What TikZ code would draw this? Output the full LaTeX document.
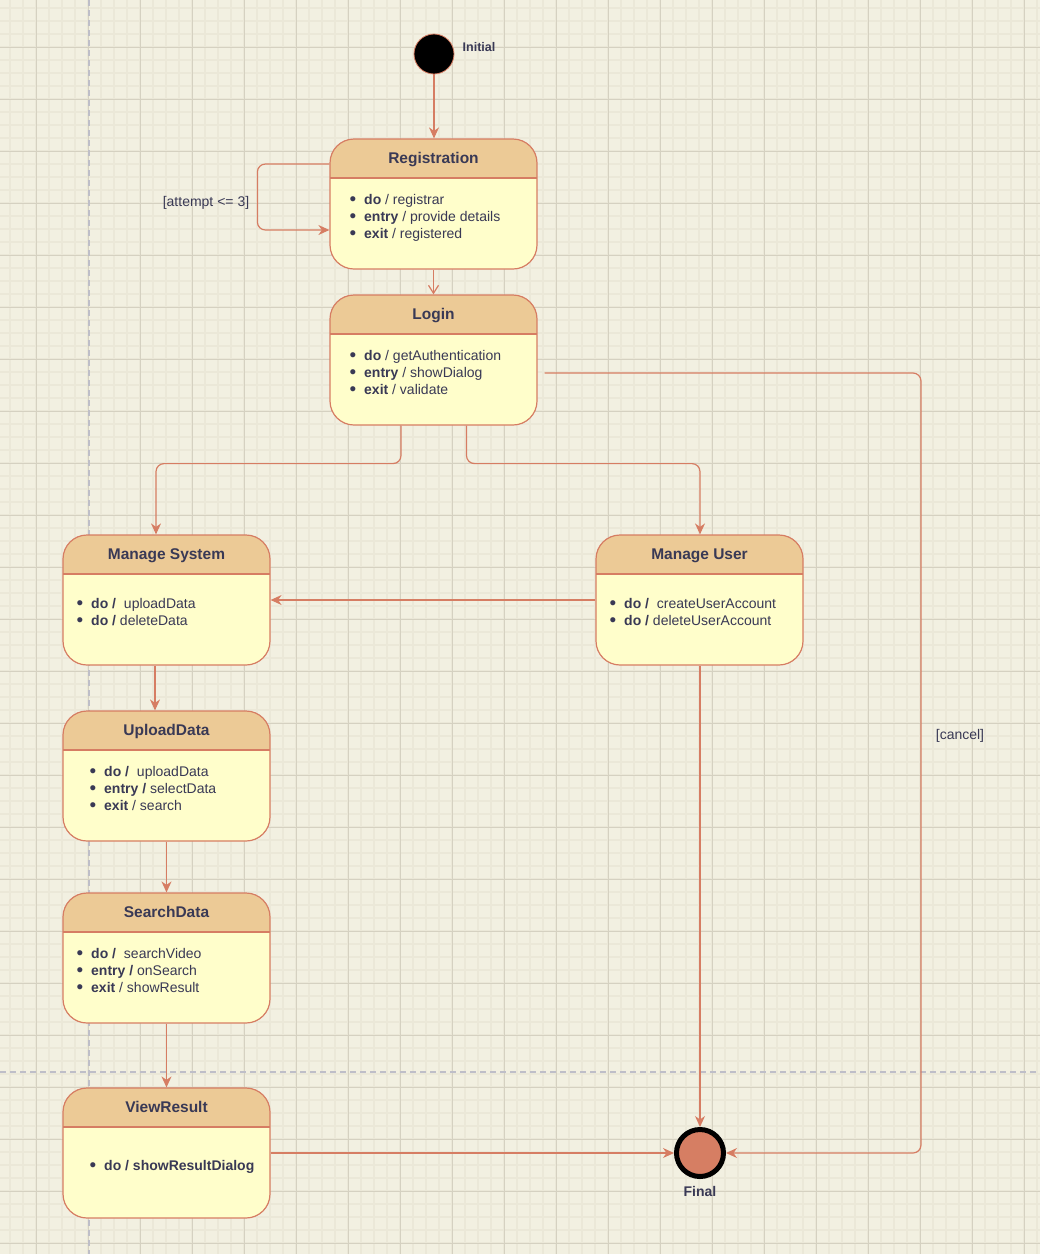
\documentclass[tikz,border=0pt]{standalone}
\usepackage{fontspec}
\usepackage{graphicx}
\setmainfont{Liberation Sans}
\usetikzlibrary{arrows.meta}

\definecolor{paper}{HTML}{F2F0E1}
\definecolor{gridminor}{HTML}{EBE8D8}
\definecolor{gridmajor}{HTML}{D5D1C1}
\definecolor{guide}{HTML}{BEBEC8}
\definecolor{edge}{HTML}{D67D63}
\definecolor{head}{HTML}{ECCA96}
\definecolor{body}{HTML}{FFFECB}
\definecolor{ink}{HTML}{393955}
\definecolor{endfill}{HTML}{D67E63}

\tikzset{
  statebox/.style={draw=edge, line width=1.2pt, fill=body, rounded corners=24pt,
    minimum width=207pt, minimum height=130pt, inner sep=0pt,
    path picture={
      \fill[head, sharp corners] (path picture bounding box.north west) rectangle
        ([yshift=-39pt]path picture bounding box.north east);
      \draw[edge, line width=1.2pt, sharp corners] ([yshift=-39pt]path picture bounding box.north west) --
        ([yshift=-39pt]path picture bounding box.north east);
    }},
  titletext/.style={font=\fontsize{15.5pt}{18pt}\selectfont\bfseries, text=ink, inner sep=0pt},
  itemtext/.style={font=\fontsize{14pt}{17pt}\selectfont, text=ink, inner sep=0pt, anchor=base west},
  labeltext/.style={font=\fontsize{14pt}{17pt}\selectfont, text=ink, inner sep=0pt},
  conn/.style={draw=edge, line width=1.2pt, -{Stealth[length=11pt,width=10pt,inset=3.5pt]}},
  openconn/.style={draw=edge, line width=1.2pt, -{Straight Barb[length=8pt,width=10pt]}},
}

% state box with its title
\newcommand\mkstate[4]{%
  \node[statebox] (#1) at (#2,#3) {};
  \node[titletext, anchor=base] (#1-title) at (#2,#3-40.5) {#4};}
% one bulleted activity line: name, x of text start, baseline, text
\newcommand\mkitem[4]{%
  \node[itemtext] (#1) at (#2,#3) {\llap{\raisebox{-1.7pt}{\scalebox{1.35}{•}}\hspace{8pt}}#4};}

\begin{document}
\begin{tikzpicture}[x=1pt,y=-1pt]
\useasboundingbox (0,0) rectangle (1040,1254);
\fill[paper] (0,0) rectangle (1040,1254);

% grid paper
\foreach \gx in {10,23,...,1040} \draw[gridminor, line width=1.4pt] (\gx,0) -- (\gx,1254);
\foreach \gy in {8,21,...,1254} \draw[gridminor, line width=1.4pt] (0,\gy) -- (1040,\gy);
\foreach \gx in {36,88,...,1040} \draw[gridmajor, line width=0.9pt] (\gx,0) -- (\gx,1254);
\foreach \gy in {47,99,...,1254} \draw[gridmajor, line width=0.9pt] (0,\gy) -- (1040,\gy);

% swimlane guides
\draw[guide, line width=1.4pt, dash pattern=on 6pt off 4pt] (89,0) -- (89,1254);
\draw[guide, line width=1.4pt, dash pattern=on 6pt off 4pt] (0,1072) -- (1040,1072);

% pseudo states
\node[circle, fill=black, draw=edge, line width=0.8pt, minimum size=40pt, inner sep=0pt] (init) at (434,54) {};
\node[font=\fontsize{12.5pt}{15pt}\selectfont\bfseries, text=ink, inner sep=0pt] (init-label) at (479,47) {Initial};

\node[circle, fill=endfill, draw=black, line width=5pt, minimum size=47pt, inner sep=0pt] (fin) at (700,1153) {};
\node[font=\fontsize{14pt}{17pt}\selectfont\bfseries, text=ink, inner sep=0pt] (fin-label) at (700,1191) {Final};

% states
\mkstate{reg}{433.5}{204}{Registration}
\mkitem{reg1}{364}{204}{\textbf{do} / registrar}
\mkitem{reg2}{364}{221}{\textbf{entry} / provide details}
\mkitem{reg3}{364}{238}{\textbf{exit} / registered}

\mkstate{login}{433.5}{360}{Login}
\mkitem{login1}{364}{360}{\textbf{do} / getAuthentication}
\mkitem{login2}{364}{377}{\textbf{entry} / showDialog}
\mkitem{login3}{364}{394}{\textbf{exit} / validate}

\mkstate{msys}{166.5}{600}{Manage System}
\mkitem{msys1}{91}{608}{\textbf{do / }\hspace{4pt}uploadData}
\mkitem{msys2}{91}{625}{\textbf{do / }deleteData}

\mkstate{muser}{699.5}{600}{Manage User}
\mkitem{muser1}{624}{608}{\textbf{do / }\hspace{4pt}createUserAccount}
\mkitem{muser2}{624}{625}{\textbf{do / }deleteUserAccount}

\mkstate{upload}{166.5}{776}{UploadData}
\mkitem{upload1}{104}{776}{\textbf{do / }\hspace{4pt}uploadData}
\mkitem{upload2}{104}{793}{\textbf{entry / }selectData}
\mkitem{upload3}{104}{810}{\textbf{exit} / search}

\mkstate{search}{166.5}{958}{SearchData}
\mkitem{search1}{91}{958}{\textbf{do / }\hspace{4pt}searchVideo}
\mkitem{search2}{91}{975}{\textbf{entry / }onSearch}
\mkitem{search3}{91}{992}{\textbf{exit} / showResult}

\mkstate{view}{166.5}{1153}{ViewResult}
\mkitem{view1}{104}{1170}{\textbf{do / showResultDialog}}

% transitions
\draw[conn] (init.south) -- (init.south |- reg.north);
\draw[conn, rounded corners=8pt] ([yshift=40pt]reg.west) -- ++(-72,0) -- ++(0,66) -- ([yshift=-26pt]reg.west);
\node[labeltext] (attempt) at (206,203) {[attempt <= 3]};
\draw[openconn] (reg.south) -- (login.north);

\coordinate (cancel-turn) at (921,373);
\draw[conn, rounded corners=8pt] ([xshift=7pt,yshift=-13pt]login.east) -- (cancel-turn) |- (fin.east);
\node[labeltext] (cancel) at (960,736) {[cancel]};

\draw[conn, rounded corners=8pt] ([xshift=-32.5pt]login.south) -- ++(0,38) -| ([xshift=-10.5pt]msys.north);
\draw[conn, rounded corners=8pt] ([xshift=33pt]login.south) -- ++(0,38) -| ([xshift=0.5pt]muser.north);

\draw[conn] (muser.west) -- (msys.east);
\draw[conn] ([xshift=0.5pt]muser.south) -- (fin.north);

\draw[conn] ([xshift=-11.5pt]msys.south) -- ([xshift=-11.5pt]upload.north);
\draw[conn] (upload.south) -- (search.north);
\draw[conn] (search.south) -- (view.north);
\draw[conn] (view.east) -- (fin.west);
\end{tikzpicture}
\end{document}
